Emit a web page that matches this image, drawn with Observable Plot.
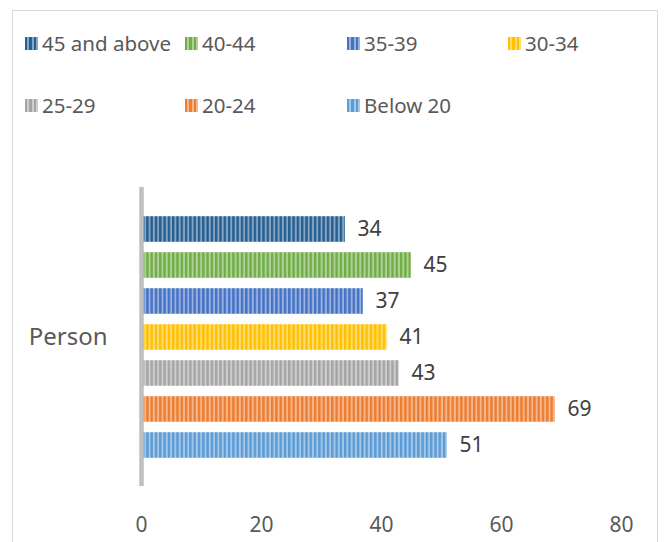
<!DOCTYPE html>
<html>
<head>
<meta charset="utf-8">
<script src="https://cdn.jsdelivr.net/npm/d3@7"></script>
<script src="https://cdn.jsdelivr.net/npm/@observablehq/plot@0.6"></script>
<style>
  html, body { margin: 0; padding: 0; background: #fff; }
  #wrap { position: relative; width: 665px; height: 542px; overflow: hidden; font-family: "Noto Sans", sans-serif; }
  #frame { position: absolute; left: 12px; top: 10px; width: 646px; height: 560px; border: 1px solid #D9D9D9; box-sizing: border-box; }
  #chart { position: absolute; left: 0; top: 0; }
  #legend { position: absolute; left: 25px; top: 0; }
  .item { position: absolute; display: flex; align-items: center; white-space: nowrap; color: #595959; font-size: 20.5px; line-height: 1; }
  .swatch { width: 13px; height: 13px; margin-right: 4px; flex: none; }
</style>
</head>
<body>
<div id="wrap">
  <div id="frame"></div>
  <div id="chart"></div>
  <div id="legend"></div>
</div>
<script>
// Age groups, listed from the top bar down
const seriesNames = ["45 and above", "40-44", "35-39", "30-34", "25-29", "20-24", "Below 20"];
const seriesValues = [34, 45, 37, 41, 43, 69, 51];
const seriesColors = ["#255E91", "#70AD47", "#4472C4", "#FFC000", "#A5A5A5", "#ED7D31", "#5B9BD5"];
const category = "Person";
const xTicks = [0, 20, 40, 60, 80];

const lighten = (c, t) => d3.interpolateRgb(c, "#ffffff")(t);
const patternIds = seriesNames.map((_, i) => `stripe-${i}`);

const data = seriesNames.map((s, i) => ({category, series: s, value: seriesValues[i]}));

const chart = Plot.plot({
  width: 665,
  height: 542,
  marginTop: 187,
  marginBottom: 56,
  marginLeft: 141,
  marginRight: 44,
  style: {fontFamily: "'Noto Sans', sans-serif", background: "transparent", overflow: "visible"},
  x: {domain: [0, 80]},
  y: {domain: seriesNames, paddingInner: 0.29, paddingOuter: 0.725, axis: null},
  fy: {domain: [category], padding: 0},
  color: {type: "ordinal", domain: seriesNames, range: patternIds.map(id => `url(#${id})`)},
  marks: [
    Plot.barX(data, {x: "value", y: "series", fy: "category", fill: "series"}),
    Plot.barX(data, {x: "value", y: "series", fy: "category", fill: "none", stroke: "#ffffff", strokeOpacity: 0.35, strokeWidth: 1.2}),
    Plot.ruleX([0], {stroke: "#BFBFBF", strokeWidth: 4.5}),
    Plot.text(data, {x: "value", y: "series", fy: "category", text: d => String(d.value), textAnchor: "start", dx: 12, fontSize: 21, fill: "#404040"}),
    Plot.axisX({ticks: xTicks, tickSize: 0, tickPadding: 31, fontSize: 21, fill: "#595959", label: null}),
    Plot.axisFy({anchor: "left", tickSize: 0, tickPadding: 34, fontSize: 24, fill: "#595959", label: null})
  ]
});

// Vertical stripe fills for the bars
const defs = d3.select(chart).insert("defs", ":first-child");
seriesColors.forEach((c, i) => {
  const p = defs.append("pattern")
    .attr("id", patternIds[i])
    .attr("patternUnits", "userSpaceOnUse")
    .attr("width", 4.3)
    .attr("height", 10);
  p.append("rect").attr("width", 4.3).attr("height", 10).attr("fill", c);
  p.append("rect").attr("x", 2.4).attr("width", 1.9).attr("height", 10).attr("fill", lighten(c, 0.45));
});

document.getElementById("chart").appendChild(chart);

// Legend: four columns, two rows
const legend = d3.select("#legend");
const colX = [0, 160, 322, 483];
const rowY = [43.5, 105.5];
seriesNames.forEach((s, i) => {
  const col = i < 4 ? i : i - 4;
  const row = i < 4 ? 0 : 1;
  const item = legend.append("div").attr("class", "item")
    .style("left", colX[col] + "px")
    .style("top", (rowY[row] - 12) + "px")
    .style("height", "24px");
  const c = seriesColors[i];
  item.append("div").attr("class", "swatch")
    .style("background", `repeating-linear-gradient(90deg, ${c} 0px, ${c} 2.4px, ${lighten(c, 0.45)} 2.4px, ${lighten(c, 0.45)} 4.3px)`);
  item.append("span").text(s);
});
</script>
</body>
</html>
